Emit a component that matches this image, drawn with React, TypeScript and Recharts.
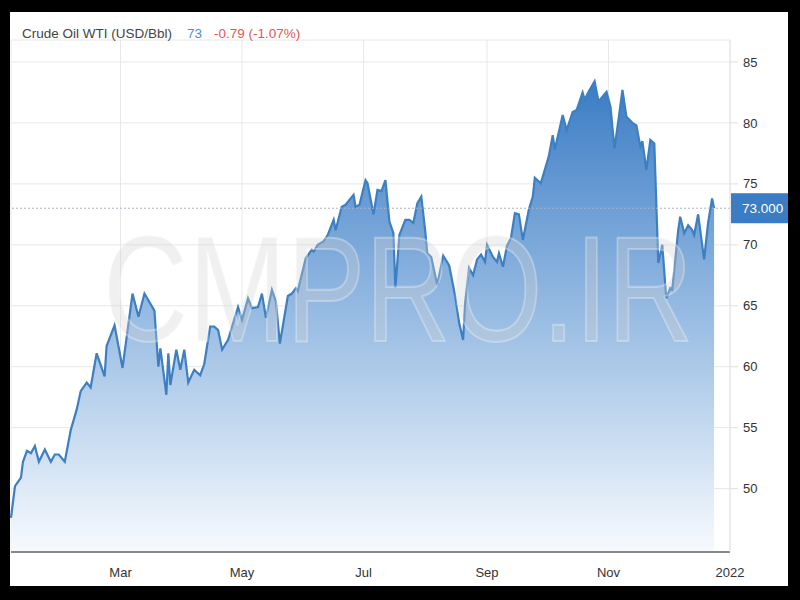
import React from "react";
import { Area, AreaChart, CartesianGrid, ReferenceLine, XAxis, YAxis } from "recharts";

const days = [
  4, 6, 9, 10, 12, 14, 16, 18, 21, 24, 26, 28, 31, 34, 37, 39, 42, 44, 47, 51,
  52, 56, 60, 65, 68, 71, 76, 78, 79, 82, 83, 84, 87, 89, 91, 93, 96, 99, 101, 104,
  106, 108, 110, 113, 115, 118, 120, 123, 125, 128, 130, 132, 135, 137, 139, 143, 145, 147, 148, 149,
  152, 155, 156, 158, 161, 163, 166, 167, 170, 172, 176, 177, 179, 182, 183, 186, 188, 190, 192, 194,
  196, 197, 199, 202, 204, 206, 208, 210, 212, 213, 215, 218, 221, 224, 227, 229, 231, 232, 234, 236,
  238, 240, 242, 243, 246, 248, 249, 251, 253, 255, 257, 259, 261, 264, 266, 267, 270, 272, 274, 276,
  277, 281, 283, 286, 288, 291, 292, 294, 297, 299, 303, 305, 307, 309, 311, 313, 316, 318, 320, 321,
  323, 325, 327, 329, 331, 333, 335, 336, 339, 340, 342, 344, 346, 347, 349, 352, 354, 356, 357,
];

const prices = [
  47.6, 50.2, 50.9, 52.2, 53.1, 52.9, 53.5, 52.2, 53.2, 52.2, 52.8, 52.8, 52.2, 54.8, 56.5, 58.0, 58.7, 58.3, 61.1, 59.2,
  61.7, 63.4, 59.9, 66.0, 64.1, 66.0, 64.6, 60.0, 61.5, 57.7, 61.1, 58.5, 61.4, 59.75, 61.4, 58.7, 59.75, 59.3, 60.2, 63.3,
  63.3, 63.0, 61.4, 62.2, 63.3, 64.9, 63.85, 65.6, 64.8, 64.9, 66.0, 64.0, 66.3, 65.35, 61.9, 65.8, 66.0, 66.45, 66.2, 66.9,
  68.9, 69.6, 69.45, 70.0, 70.3, 70.8, 72.05, 71.2, 73.1, 73.3, 74.1, 73.1, 73.3, 75.3, 75.05, 72.5, 74.5, 74.4, 75.3, 71.9,
  70.95, 66.45, 70.8, 72.05, 72.05, 71.8, 73.4, 73.95, 71.1, 69.3, 69.0, 66.7, 69.1, 68.3, 65.8, 63.6, 62.2, 65.2, 68.1, 67.5,
  68.8, 69.2, 68.6, 70.0, 69.0, 68.6, 69.3, 68.2, 69.9, 70.55, 72.6, 72.5, 70.4, 72.9, 73.95, 75.5, 75.05, 76.15, 77.25, 79.0,
  77.8, 80.65, 79.4, 80.9, 81.05, 82.5, 81.9, 82.55, 83.4, 81.75, 82.55, 81.3, 77.9, 80.25, 82.7, 80.5, 80.0, 79.8, 78.05, 78.5,
  76.15, 78.6, 78.3, 68.5, 70.0, 65.6, 66.45, 66.3, 71.2, 72.3, 70.95, 71.6, 71.2, 70.8, 72.5, 68.8, 71.8, 73.8, 73.0,
];

const tickDays = [59, 120, 181, 243, 304, 365];
const tickLabels = ["Mar", "May", "Jul", "Sep", "Nov", "2022"];
const priceTicks = [50, 55, 60, 65, 70, 75, 80, 85];
const lastPrice = 73;

const data = days.map((d, i) => ({ day: d, price: prices[i] }));

const FONT = '"Liberation Sans", Arial, sans-serif';

function PriceTag(props: any) {
  const { viewBox } = props;
  if (!viewBox) return null;
  const x = viewBox.x + viewBox.width;
  const y = viewBox.y;
  return (
    <g>
      <rect x={x + 1} y={y - 15} width={58} height={30} fill="#3b7dc4" />
      <text x={x + 12} y={y + 5} fill="#fff" fontSize={13.5} fontFamily={FONT}>
        {lastPrice.toFixed(3)}
      </text>
    </g>
  );
}

export default function App() {
  const labelOf = (v: number) => tickLabels[tickDays.indexOf(v)] ?? "";

  return (
    <div style={{ position: "absolute", left: 0, top: 0, width: 800, height: 600, background: "#000" }}>
      <div style={{ position: "absolute", left: 10, top: 12, width: 778, height: 574, background: "#fff" }}>
        <div
          style={{
            position: "absolute",
            left: 12,
            top: 14,
            fontFamily: FONT,
            fontSize: 13.5,
            lineHeight: "15px",
            color: "#444",
            whiteSpace: "nowrap",
            zIndex: 2,
          }}
        >
          Crude Oil WTI (USD/Bbl)
          <span style={{ color: "#4a8fd0", marginLeft: 15 }}>73</span>
          <span style={{ color: "#e2564f", marginLeft: 12 }}>-0.79 (-1.07%)</span>
        </div>

        <AreaChart
          width={778}
          height={574}
          data={data}
          margin={{ top: 28, right: 0, bottom: 0, left: 1 }}
        >
          <defs>
            <linearGradient id="oilFill" x1="0" y1="0" x2="0" y2="1">
              <stop offset="0%" stopColor="#3b7cc5" />
              <stop offset="50%" stopColor="#98bce3" />
              <stop offset="100%" stopColor="#f7fafe" />
            </linearGradient>
          </defs>
          <CartesianGrid stroke="#e8e8e8" />
          <XAxis
            type="number"
            dataKey="day"
            domain={[4, 365]}
            ticks={tickDays}
            interval={0}
            tickFormatter={labelOf}
            height={34}
            tickLine={false}
            tickSize={10}
            tickMargin={6}
            axisLine={{ stroke: "#888", strokeWidth: 2 }}
            tick={{ fill: "#333", fontSize: 13, fontFamily: FONT }}
          />
          <YAxis
            orientation="right"
            type="number"
            domain={[44.8, 86.8]}
            ticks={priceTicks}
            width={58}
            tickSize={8}
            tickMargin={5}
            tickLine={{ stroke: "#e0e0e0" }}
            axisLine={{ stroke: "#e4e4e4" }}
            tick={{ fill: "#333", fontSize: 13, fontFamily: FONT, textAnchor: "start" }}
          />
          <Area
            type="linear"
            dataKey="price"
            stroke="#3d7fc1"
            strokeWidth={2.2}
            fill="url(#oilFill)"
            fillOpacity={1}
            isAnimationActive={false}
            dot={false}
            activeDot={false}
          />
          <ReferenceLine
            y={lastPrice}
            stroke="#a9b4c4"
            strokeDasharray="2 2"
            label={<PriceTag />}
          />
        </AreaChart>

        <svg
          width={778}
          height={574}
          style={{ position: "absolute", left: 0, top: 0, pointerEvents: "none" }}
        >
          <g transform="scale(1,1.3)">
            <text
              x={93}
              y={253}
              fontSize={116}
              fontFamily={FONT}
              textLength={590}
              lengthAdjust="spacingAndGlyphs"
              fill="rgb(210,210,210)"
              fillOpacity={0.33}
              stroke="#fff"
              strokeOpacity={0.3}
              strokeWidth={1.6}
            >
              CMPRO.IR
            </text>
          </g>
        </svg>
      </div>
    </div>
  );
}
